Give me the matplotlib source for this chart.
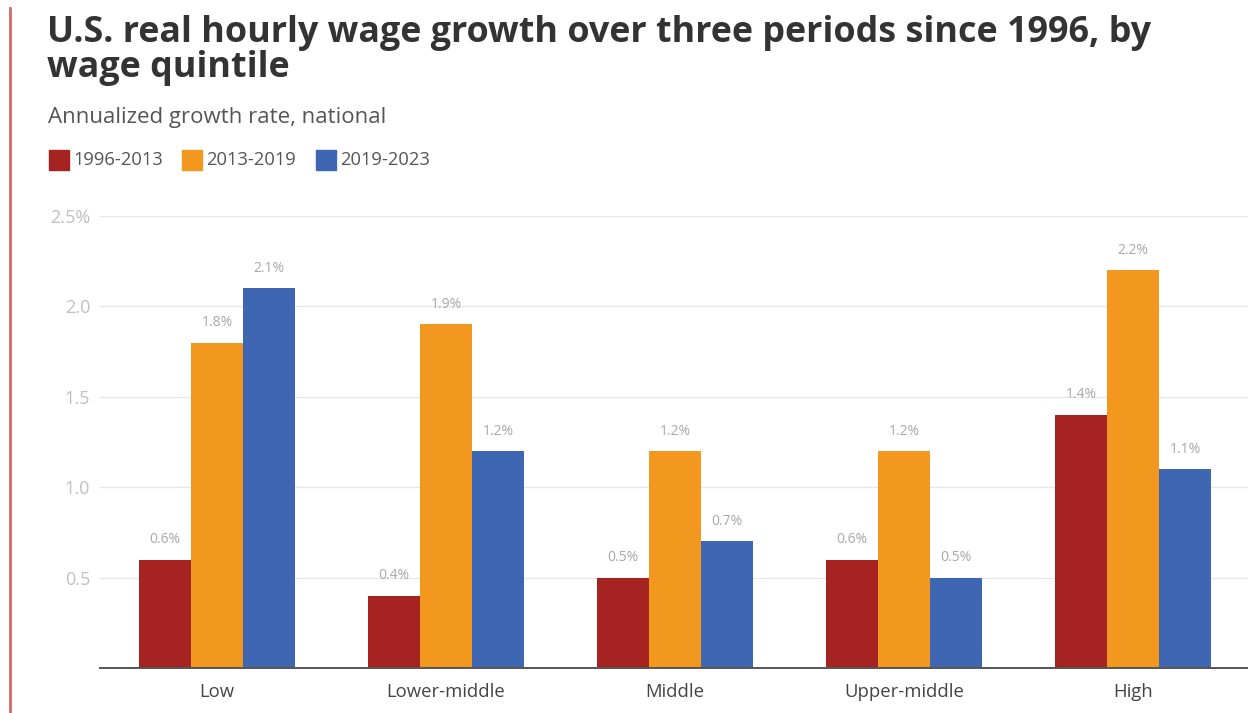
import numpy as np
import matplotlib.pyplot as plt
from matplotlib.patches import Rectangle
from matplotlib.lines import Line2D

quintiles = ["Low", "Lower-middle", "Middle", "Upper-middle", "High"]
periods = ["1996-2013", "2013-2019", "2019-2023"]
growth_96_13 = [0.6, 0.4, 0.5, 0.6, 1.4]
growth_13_19 = [1.8, 1.9, 1.2, 1.2, 2.2]
growth_19_23 = [2.1, 1.2, 0.7, 0.5, 1.1]
ytick_vals = [0.5, 1.0, 1.5, 2.0, 2.5]
ytick_labels = ["0.5", "1.0", "1.5", "2.0", "2.5%"]

colors = ["#a52421", "#f3981f", "#3e66b2"]
series = [growth_96_13, growth_13_19, growth_19_23]

plt.rcParams['font.family'] = ['Open Sans', 'DejaVu Sans']

fig = plt.figure(figsize=(12.48, 7.13), dpi=100)
ax = fig.add_axes([100/1248, 1 - 668/713, 1 - 100/1248, (668 - 216)/713])

x = np.arange(len(quintiles))
w = 0.227
for i, vals in enumerate(series):
    pos = x + (i - 1) * w
    ax.bar(pos, vals, width=w, color=colors[i], zorder=3)
    for px, v in zip(pos, vals):
        ax.annotate("%.1f%%" % v, (px, v), xytext=(0, 9), textcoords="offset points",
                    ha="center", va="bottom", fontsize=10, color="#a8a8a8")

ax.set_xlim(-0.511, 4.502)
ax.set_ylim(0, 2.5)
ax.set_yticks(ytick_vals)
ax.set_yticklabels(ytick_labels, fontsize=13, color="#c0c0c0")
ax.set_xticks(x)
ax.set_xticklabels(quintiles, fontsize=13.3, color="#444444")
ax.tick_params(axis="both", length=0)
ax.tick_params(axis="y", pad=7)
ax.tick_params(axis="x", pad=11)
ax.grid(axis="y", color="#e8e8e8", linewidth=1, zorder=0)
for s in ["top", "right", "left"]:
    ax.spines[s].set_visible(False)
ax.spines["bottom"].set_color("#555555")
ax.spines["bottom"].set_linewidth(1.4)
ax.spines["bottom"].set_zorder(4)

# title block (baseline of the last line)
fig.text(47/1248, 1 - 77/713, "U.S. real hourly wage growth over three periods since 1996, by\nwage quintile",
         fontsize=25.8, fontweight="bold", color="#333333", va="baseline", ha="left",
         linespacing=0.96, multialignment="left")
fig.text(48/1248, 1 - 117/713, "Annualized growth rate, national", fontsize=16, color="#555555",
         va="center", ha="left")

# legend row
lx = [49, 182, 316]
for i, label in enumerate(periods):
    fig.patches.append(Rectangle((lx[i]/1248, 1 - 170/713), 20/1248, 20/713,
                                 transform=fig.transFigure, color=colors[i]))
    fig.text((lx[i] + 24)/1248, 1 - 160/713, label, fontsize=13.2, color="#555555",
             va="center", ha="left")

# left accent rule
fig.lines.append(Line2D([10/1248, 10/1248], [0, 1 - 8/713], transform=fig.transFigure,
                        color="#d9686a", linewidth=2))

fig.savefig("out.png", dpi=100)
